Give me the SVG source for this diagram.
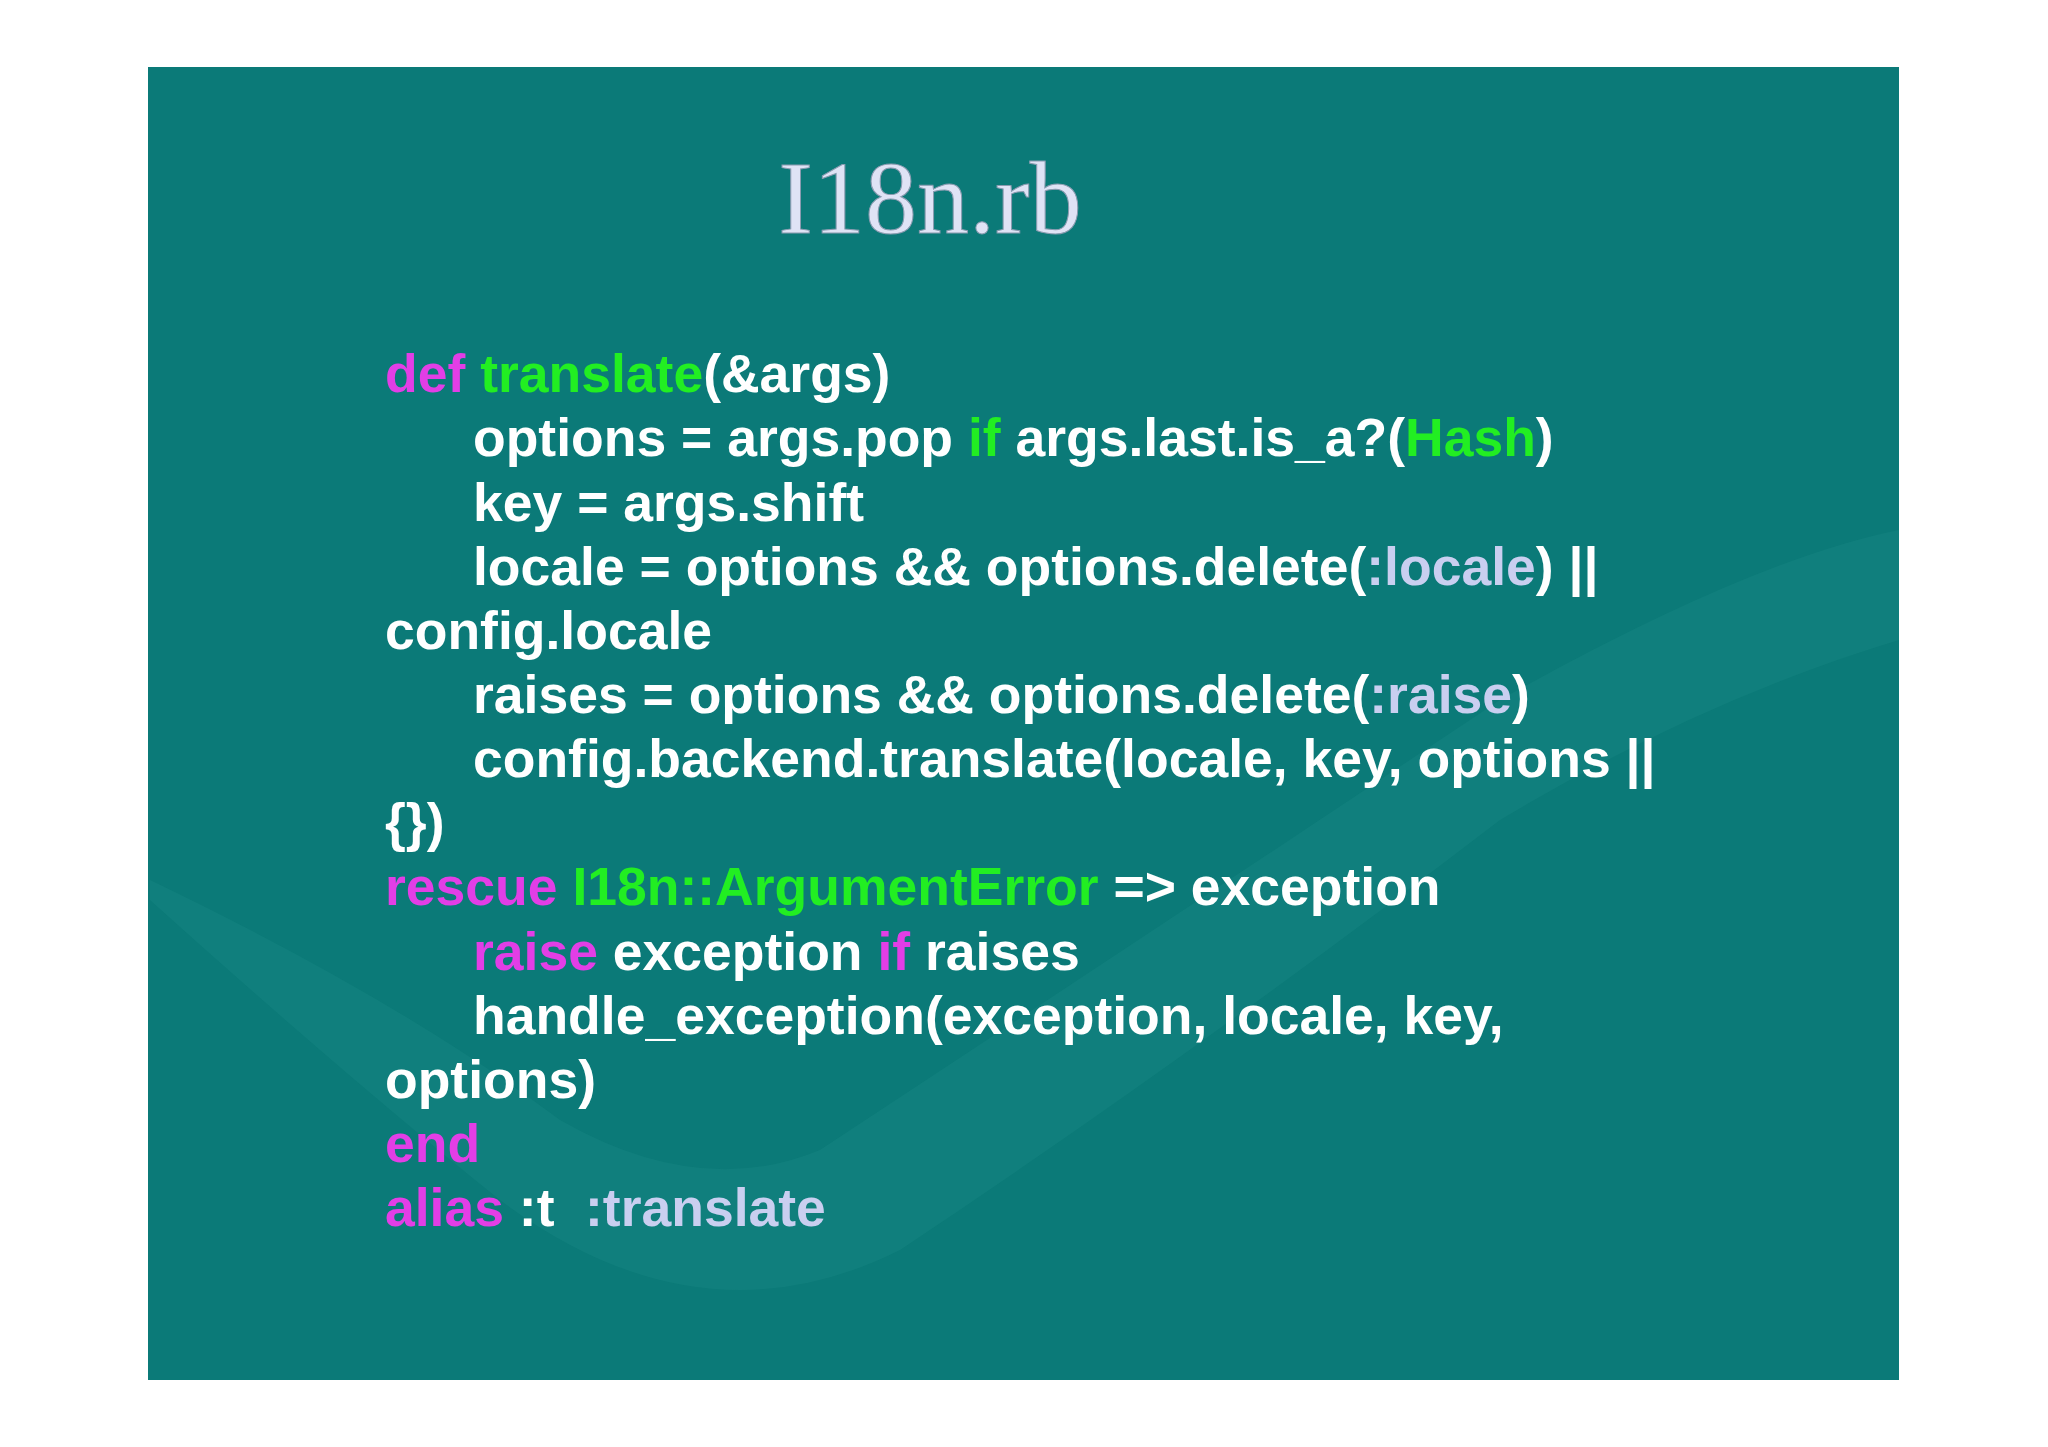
<svg xmlns="http://www.w3.org/2000/svg" width="2048" height="1447" viewBox="0 0 2048 1447">
<style>
.c{font-family:"Liberation Sans",Arial,sans-serif;font-weight:bold;font-size:53.5px;fill:#ffffff}
.k{fill:#e23ee6}.g{fill:#22ee22}.s{fill:#c9cff0}
</style>
<rect width="2048" height="1447" fill="#ffffff"/>
<rect x="148" y="67" width="1751" height="1313" fill="#0b7a78"/>
<path d="M150 880 Q400 1000 560 1120 Q700 1200 820 1150 Q1200 900 1500 700 Q1750 560 1899 530 L1899 640 Q1700 700 1500 820 Q1200 1050 900 1250 Q700 1350 500 1200 Q350 1080 150 900Z" fill="#2a9590" opacity="0.2"/>
<g id="title"><text x="930" y="233" text-anchor="middle" font-family="'Liberation Serif',serif" font-size="104" fill="#dfe3f5" stroke="#8a9bb0" stroke-width="1">I18n.rb</text></g>
<g id="code" class="c">
<text x="385" y="392"><tspan class="k">def </tspan><tspan class="g">translate</tspan>(&amp;args)</text>
<text x="473" y="456">options = args.pop <tspan class="g">if</tspan> args.last.is_a?(<tspan class="g">Hash</tspan>)</text>
<text x="473" y="521">key = args.shift</text>
<text x="473" y="585">locale = options &amp;&amp; options.delete(<tspan class="s">:locale</tspan>) ||</text>
<text x="385" y="649">config.locale</text>
<text x="473" y="713">raises = options &amp;&amp; options.delete(<tspan class="s">:raise</tspan>)</text>
<text x="473" y="777">config.backend.translate(locale, key, options ||</text>
<text x="385" y="841">{})</text>
<text x="385" y="905"><tspan class="k">rescue </tspan><tspan class="g">I18n::ArgumentError</tspan> =&gt; exception</text>
<text x="473" y="970"><tspan class="k">raise</tspan> exception <tspan class="k">if</tspan> raises</text>
<text x="473" y="1034">handle_exception(exception, locale, key,</text>
<text x="385" y="1098">options)</text>
<text x="385" y="1162" class="k">end</text>
<text x="385" y="1226"><tspan class="k">alias</tspan> :t <tspan class="s" x="585">:translate</tspan></text>
</g>
</svg>
